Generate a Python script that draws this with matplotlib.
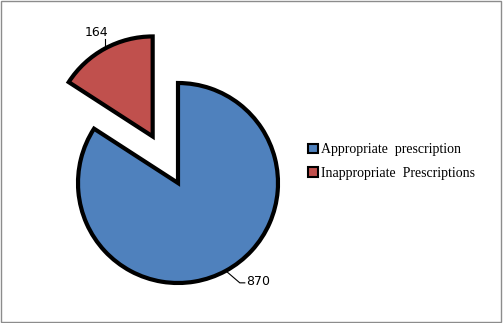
import numpy as np
import matplotlib
matplotlib.use("Agg")
import matplotlib.pyplot as plt
from matplotlib.patches import Rectangle

categories = ["Appropriate  prescription", "Inappropriate  Prescriptions"]
values = [870, 164]
colors = ["#4F81BD", "#C0504D"]
explode = [0, 0.53]

W, H = 503, 323
fig = plt.figure(figsize=(W / 100, H / 100), dpi=100)
ax = fig.add_axes([0, 0, 1, 1])

wedges, _ = ax.pie(values, colors=colors, explode=explode, startangle=90,
                   counterclock=False, radius=1.0,
                   wedgeprops=dict(edgecolor="black", linewidth=3),
                   frame=True)
ax.set_xlim(-1.78, (W - 178) / 100)
ax.set_ylim(-(H - 183) / 100, 1.83)
ax.set_aspect("equal")
ax.axis("off")

# labels with leader lines
for w, v in zip(wedges, values):
    mid = np.deg2rad((w.theta1 + w.theta2) / 2)
    cx, cy = w.center
    px, py = cx + np.cos(mid), cy + np.sin(mid)
    if py > 0:
        ax.plot([px, px], [py, py + 0.10], color="black", lw=0.8)
        ax.text(px - 0.08, py + 0.10, str(v), ha="center", va="bottom",
                fontsize=9, family="DejaVu Sans")
    else:
        ax.plot([px, px + 0.14, px + 0.19], [py, py - 0.12, py - 0.12],
                color="black", lw=0.8)
        ax.text(px + 0.2, py - 0.11, str(v), ha="left", va="center",
                fontsize=9, family="DejaVu Sans")

handles = [Rectangle((0, 0), 1, 1, facecolor=c, edgecolor="black", lw=1.5) for c in colors]
fig.legend(handles, categories, loc="center left", bbox_to_anchor=(0.588, 0.5),
           frameon=False, prop=dict(family="Liberation Serif", size=10),
           handlelength=0.7, handleheight=0.7, handletextpad=0.25, labelspacing=0.75)

fig.add_artist(Rectangle((0.002, 0.003), 0.995, 0.994, transform=fig.transFigure,
                         fill=False, edgecolor="#8c8c8c", lw=1))
fig.savefig("out.png", dpi=100)
